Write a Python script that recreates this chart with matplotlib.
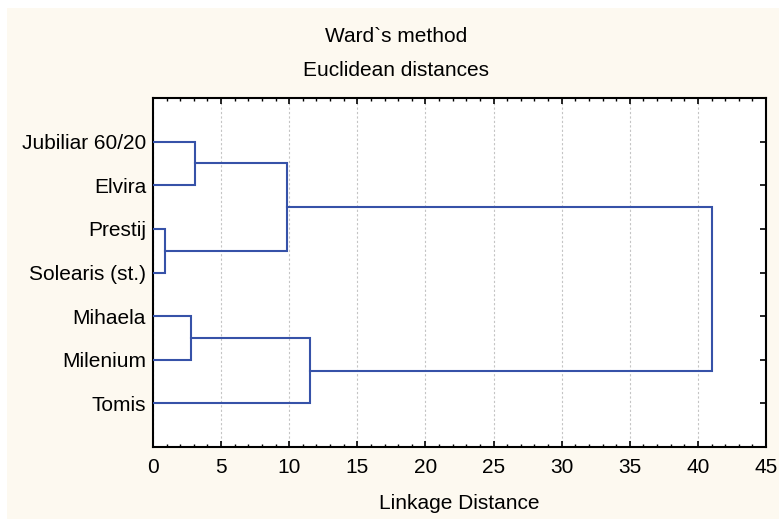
import matplotlib
matplotlib.use("Agg")
import matplotlib.pyplot as plt
from matplotlib.patches import Rectangle
from matplotlib.ticker import MultipleLocator

# dendrogram data (Ward's method, Euclidean distances)
leaves = ["Jubiliar 60/20", "Elvira", "Prestij", "Solearis (st.)",
          "Mihaela", "Milenium", "Tomis"]
# merges like a linkage matrix: cluster a, cluster b, distance
merge_a = [2, 4, 0, 9, 8, 10]
merge_b = [3, 5, 1, 7, 6, 11]
merge_dist = [0.88, 2.79, 3.08, 9.84, 11.5, 41.05]

plt.rcParams['font.family'] = ['Liberation Sans', 'DejaVu Sans']
plt.rcParams['font.size'] = 15

fig = plt.figure(figsize=(7.79, 5.19), dpi=100)
fig.patch.set_facecolor('white')
# cream panel with small white margin at top and left
fig.patches.append(Rectangle((7 / 779, 0), 1, 1 - 8 / 519, transform=fig.transFigure,
                             facecolor='#fdf9f0', edgecolor='none', zorder=-10))

ax = fig.add_axes([153 / 779, 1 - 447 / 519, (766 - 153) / 779, (447 - 98) / 519])
ax.set_facecolor('white')

line_color = '#3652a8'

# position / height of every cluster
ypos = {i: i + 1 for i in range(len(leaves))}
height = {i: 0.0 for i in range(len(leaves))}
n = len(leaves)
for k, (a, b, d) in enumerate(zip(merge_a, merge_b, merge_dist)):
    ya, yb = ypos[a], ypos[b]
    ax.plot([height[a], d, d, height[b]], [ya, ya, yb, yb],
            color=line_color, lw=1.5, solid_joinstyle='miter', zorder=3)
    ypos[n + k] = (ya + yb) / 2
    height[n + k] = d

ax.set_xlim(0, 45)
ax.set_ylim(len(leaves) + 1, 0)
ax.xaxis.set_major_locator(MultipleLocator(5))
ax.xaxis.set_minor_locator(MultipleLocator(1))
ax.set_yticks(range(1, len(leaves) + 1))
ax.set_yticklabels(leaves)

ax.tick_params(which='both', direction='in', top=True, right=True, color='black')
ax.tick_params(which='major', length=4, width=1.2, pad=8)
ax.tick_params(which='minor', length=2.5, width=1.0)
ax.tick_params(axis='y', pad=5)

for s in ax.spines.values():
    s.set_linewidth(1.5)
    s.set_color('black')

ax.grid(True, axis='x', which='major', color='#c4c4c4', linestyle=(0, (2, 2)), lw=0.8)
ax.set_axisbelow(True)

ax.set_xlabel('Linkage Distance', labelpad=12)

# titles are centred on the panel, not on the axes
cx = 396 / 779
fig.text(cx, 1 - 37 / 519, 'Ward`s method', ha='center', va='center')
fig.text(cx, 1 - 70 / 519, 'Euclidean distances', ha='center', va='center')

fig.savefig('out.png', dpi=100, facecolor=fig.get_facecolor())
